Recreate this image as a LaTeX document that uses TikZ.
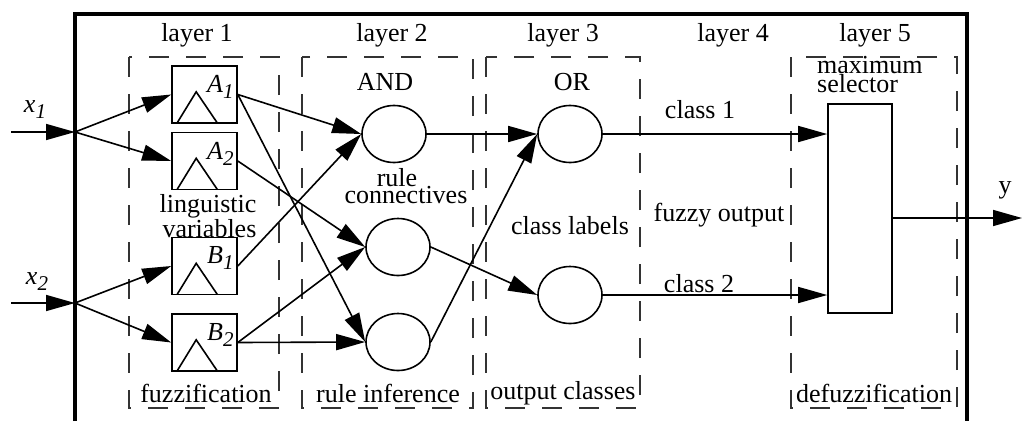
\documentclass[tikz,border=0pt]{standalone}
\usepackage{fontspec}
\setmainfont{Liberation Serif}
\usetikzlibrary{arrows.meta,shapes.geometric,calc}
\newcommand{\subl}[2]{\textit{#1}\raisebox{-6pt}{\fontsize{21}{21}\selectfont\textit{#2}}}
\begin{document}
\begin{tikzpicture}[x=1pt,y=-1pt,
  font=\fontsize{26}{19}\selectfont,
  every node/.style={inner sep=0pt},
  wire/.style={line width=1.6pt},
  arr/.style={wire,-{Triangle[length=29pt,width=16pt]}},
  layerbox/.style={line width=1.6pt,black!80,dash pattern=on 20pt off 17pt},
  fbox/.style={draw,line width=1.6pt,minimum width=65pt,minimum height=57pt},
  neuron/.style={ellipse,draw,line width=1.6pt,minimum width=64pt,minimum height=57pt,inner sep=0pt},
  lbl/.style={align=center}]
\useasboundingbox (0,0) rectangle (1022,421);

% outer frame
\draw[line width=4pt] (75,421) -- (75,14) -- (967,14) -- (967,421);

% layer boxes
\draw[layerbox] (129,57) rectangle (279,408);
\draw[layerbox] (302,57) rectangle (473,408);
\draw[layerbox] (486,57) rectangle (640,408);
\draw[layerbox] (791,57) rectangle (957,408);

% layer titles
\node (t1) at (197,35) {layer 1};
\node (t2) at (392,35) {layer 2};
\node (t3) at (563,35) {layer 3};
\node (t4) at (733,35) {layer 4};
\node (t5) at (875,35) {layer 5};

% fuzzification boxes
\node[fbox] (A1) at (204.5,94.5) {};
\node[fbox] (A2) at (204.5,161) {};
\node[fbox] (B1) at (204.5,266) {};
\node[fbox] (B2) at (204.5,342.5) {};
\foreach \n in {A1,A2,B1,B2}
  \draw[wire] ($(\n.south west)+(6,-1)$) -- ($(\n.south west)+(25,-32)$) -- ($(\n.south west)+(46,-1)$);
\node[anchor=north east] (lA1) at ($(A1.north east)+(-4,10)$) {\subl{A}{1}};
\node[anchor=north east] (lA2) at ($(A2.north east)+(-4,10)$) {\subl{A}{2}};
\node[anchor=north east] (lB1) at ($(B1.north east)+(-4,10)$) {\subl{B}{1}};
\node[anchor=north east] (lB2) at ($(B2.north east)+(-4,10)$) {\subl{B}{2}};

% inputs
\coordinate (x1in) at (11,132);
\coordinate (j1) at (75,132);
\coordinate (x2in) at (11,303);
\coordinate (j2) at (75,303);
\node (lx1) at (35,110) {\subl{x}{1}};
\node (lx2) at (37,282) {\subl{x}{2}};
\draw[arr] (x1in) -- (j1);
\draw[arr] (x2in) -- (j2);
\draw[arr] (j1) -- (A1.west);
\draw[arr] (j1) -- (A2.west);
\draw[arr] (j2) -- (B1.west);
\draw[arr] (j2) -- (B2.west);

% rule nodes
\node[neuron] (R1) at (394,134) {};
\node[neuron] (R2) at (398,247) {};
\node[neuron] (R3) at (398,342) {};
% class nodes
\node[neuron] (O1) at (570,134) {};
\node[neuron] (O2) at (570,295) {};

% selector
\node[draw,line width=1.6pt,minimum width=64pt,minimum height=209pt] (sel) at (860,208.5) {};

% connections layer1 -> layer2
\draw[arr] (A1.east) -- (R1.west);
\draw[arr] (A1.east) -- (R3.west);
\draw[arr] (A2.east) -- (R2.west);
\draw[arr] (B1.east) -- (R1.west);
\draw[arr] (B2.east) -- (R2.west);
\draw[arr] (B2.east) -- (R3.west);
% layer2 -> layer3
\draw[arr] (R1.east) -- (O1.west);
\draw[arr] (R3.east) -- (O1.west);
\draw[arr] (R2.east) -- (O2.west);
% layer3 -> selector
\draw[arr] (O1.east) -- (O1.east -| sel.west);
\draw[arr] (O2.east) -- (O2.east -| sel.west);
% output
\coordinate (yout) at (1022,218);
\draw[arr] (yout -| sel.east) -- (yout);

% texts
\node[lbl,align=right] (ling) at (208,216) {linguistic\\variables};
\node (fuzz) at (206,393) {fuzzification};
\node (and) at (385,82) {AND};
\node (rule) at (397,178) {rule};
\node (conn) at (406,195) {connectives};
\node (rinf) at (388,393) {rule inference};
\node (or) at (572,82) {OR};
\node (clab) at (570,226) {class labels};
\node (ocls) at (563,393) {output classes};
\node (c1) at (700,110) {class 1};
\node (c2) at (699,284) {class 2};
\node (fout) at (719,215) {fuzzy output};
\node[align=left,anchor=west] (maxs) at (817,75) {maximum\\selector};
\node (defz) at (874,393) {defuzzification};
\node (ylab) at (1005,190) {y};
\end{tikzpicture}
\end{document}
